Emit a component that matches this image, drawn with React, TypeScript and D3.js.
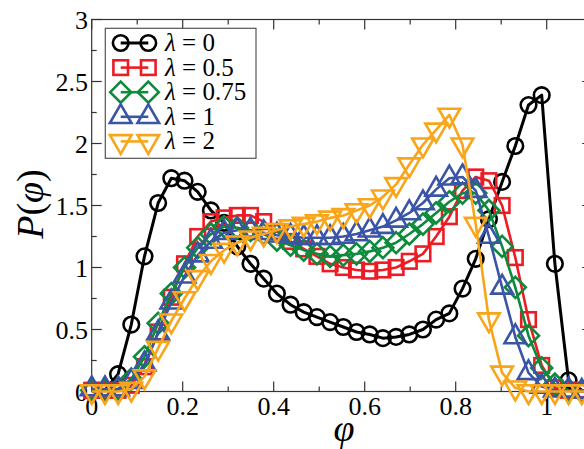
import React from "react";
import * as d3 from "d3";

const PHI = [0, 0.029, 0.058, 0.087, 0.116, 0.146, 0.175, 0.204, 0.233, 0.262, 0.291, 0.32, 0.349, 0.378, 0.407, 0.437, 0.466, 0.495, 0.524, 0.553, 0.582, 0.611, 0.64, 0.669, 0.698, 0.728, 0.757, 0.786, 0.815, 0.844, 0.873, 0.902, 0.931, 0.96, 0.989, 1.018, 1.048, 1.077, 1.106];

const P_LAMBDA_0 = [0, 0.01, 0.14, 0.54, 1.09, 1.52, 1.72, 1.7, 1.61, 1.46, 1.36, 1.17, 1.03, 0.91, 0.79, 0.7, 0.64, 0.6, 0.56, 0.52, 0.48, 0.46, 0.43, 0.44, 0.46, 0.5, 0.58, 0.63, 0.83, 1.07, 1.39, 1.69, 1.98, 2.31, 2.39, 1.03, 0.09, 0.01, 0];
const P_LAMBDA_05 = [0.01, 0.01, 0.01, 0.05, 0.2, 0.48, 0.76, 1.03, 1.25, 1.37, 1.4, 1.42, 1.42, 1.37, 1.29, 1.21, 1.15, 1.09, 1.03, 1.0, 0.98, 0.97, 0.98, 1.0, 1.05, 1.11, 1.25, 1.41, 1.62, 1.73, 1.7, 1.5, 1.08, 0.58, 0.21, 0.03, 0.01, 0.01, 0.01];
const P_LAMBDA_075 = [0.01, 0.01, 0.02, 0.1, 0.28, 0.55, 0.79, 1.0, 1.16, 1.27, 1.33, 1.32, 1.3, 1.27, 1.22, 1.18, 1.14, 1.11, 1.09, 1.1, 1.11, 1.13, 1.16, 1.2, 1.27, 1.35, 1.44, 1.53, 1.6, 1.6, 1.46, 1.17, 0.84, 0.45, 0.19, 0.06, 0.01, 0, 0];
const P_LAMBDA_1 = [0.02, 0.02, 0.02, 0.08, 0.22, 0.47, 0.72, 0.93, 1.1, 1.21, 1.28, 1.3, 1.3, 1.28, 1.26, 1.25, 1.24, 1.24, 1.24, 1.25, 1.27, 1.3, 1.33, 1.38, 1.44, 1.52, 1.63, 1.72, 1.73, 1.62, 1.25, 0.84, 0.44, 0.15, 0.04, 0.01, 0.01, 0, 0];
const P_LAMBDA_2 = [0, 0, 0, 0.02, 0.12, 0.35, 0.57, 0.75, 0.92, 1.05, 1.14, 1.2, 1.24, 1.27, 1.3, 1.33, 1.35, 1.37, 1.4, 1.42, 1.46, 1.5, 1.57, 1.67, 1.83, 1.99, 2.11, 2.23, 1.99, 1.35, 0.58, 0.15, 0.03, 0, 0, 0, 0, 0, 0];

const LAMBDA_LABELS = ["0", "0.5", "0.75", "1", "2"];
const X_TICKS = [0, 0.2, 0.4, 0.6, 0.8, 1];
const X_TICK_LABELS = ["0", "0.2", "0.4", "0.6", "0.8", "1"];
const X_MINOR = [0.1, 0.3, 0.5, 0.7, 0.9];
const Y_TICKS = [0, 0.5, 1, 1.5, 2, 2.5, 3];
const Y_TICK_LABELS = ["0", "0.5", "1", "1.5", "2", "2.5", "3"];
const Y_MINOR = [0.25, 0.75, 1.25, 1.75, 2.25, 2.75];

const SERIES = [
  { values: P_LAMBDA_0, color: "#000000", shape: "circle", lw: 3 },
  { values: P_LAMBDA_05, color: "#ec1c24", shape: "square", lw: 2.6 },
  { values: P_LAMBDA_075, color: "#0e8a3c", shape: "diamond", lw: 2.6 },
  { values: P_LAMBDA_1, color: "#3a54a6", shape: "up", lw: 2.6 },
  { values: P_LAMBDA_2, color: "#f9a51a", shape: "down", lw: 2.6 },
];

const W = 584;
const H = 449;
const X0 = 91.7;
const X1 = 91.7 + 455 * 1.1;
const Y0 = 391.5;
const Y1 = 19.5;
const textStyle = { fontFamily: '"Liberation Serif"' };

function Marker({ shape, cx, cy, color }: { shape: string; cx: number; cy: number; color: string }) {
  const sw = 2.6;
  if (shape === "circle") return <circle cx={cx} cy={cy} r={7.8} fill="none" stroke={color} strokeWidth={sw} />;
  if (shape === "square") {
    const h = 7.3;
    return <rect x={cx - h} y={cy - h} width={2 * h} height={2 * h} fill="none" stroke={color} strokeWidth={sw} />;
  }
  if (shape === "diamond") {
    const r = 10.5;
    return <path d={`M${cx},${cy - r}L${cx + r},${cy}L${cx},${cy + r}L${cx - r},${cy}Z`} fill="none" stroke={color} strokeWidth={sw} strokeLinejoin="miter" />;
  }
  const r = 12.5;
  const s = shape === "up" ? 1 : -1;
  const hw = (r * Math.sqrt(3)) / 2;
  return (
    <path
      d={`M${cx},${cy - s * r}L${cx + hw},${cy + (s * r) / 2}L${cx - hw},${cy + (s * r) / 2}Z`}
      fill="none"
      stroke={color}
      strokeWidth={sw}
    />
  );
}

export default function App() {
  const x = d3.scaleLinear().domain([0, 1.1]).range([X0, X1]);
  const y = d3.scaleLinear().domain([0, 3]).range([Y0, Y1]);
  const line = d3
    .line<number>()
    .x((_, i) => x(PHI[i]))
    .y((d) => y(d));

  const axisColor = "#333";
  const legX = 105.3;
  const legY = 28.3;
  const legRow = 24.6;

  return (
    <svg width={W} height={H} style={{ position: "fixed", left: 0, top: 0, background: "#fff" }}>
      <rect x={0} y={0} width={W} height={H} fill="#fff" />
      <rect x={X0} y={Y1} width={X1 - X0} height={Y0 - Y1} fill="none" stroke={axisColor} strokeWidth={1.2} />
      {X_TICKS.map((t) => (
        <g key={"xt" + t}>
          <line x1={x(t)} x2={x(t)} y1={Y0} y2={Y0 - 10} stroke={axisColor} strokeWidth={1.2} />
          <line x1={x(t)} x2={x(t)} y1={Y1} y2={Y1 + 10} stroke={axisColor} strokeWidth={1.2} />
        </g>
      ))}
      {X_MINOR.map((t) => (
        <g key={"xm" + t}>
          <line x1={x(t)} x2={x(t)} y1={Y0} y2={Y0 - 5} stroke={axisColor} strokeWidth={1.2} />
          <line x1={x(t)} x2={x(t)} y1={Y1} y2={Y1 + 5} stroke={axisColor} strokeWidth={1.2} />
        </g>
      ))}
      {Y_TICKS.map((t) => (
        <g key={"yt" + t}>
          <line x1={X0} x2={X0 + 10} y1={y(t)} y2={y(t)} stroke={axisColor} strokeWidth={1.2} />
          <line x1={X1} x2={X1 - 10} y1={y(t)} y2={y(t)} stroke={axisColor} strokeWidth={1.2} />
        </g>
      ))}
      {Y_MINOR.map((t) => (
        <g key={"ym" + t}>
          <line x1={X0} x2={X0 + 5} y1={y(t)} y2={y(t)} stroke={axisColor} strokeWidth={1.2} />
          <line x1={X1} x2={X1 - 5} y1={y(t)} y2={y(t)} stroke={axisColor} strokeWidth={1.2} />
        </g>
      ))}
      {X_TICKS.map((t, i) => (
        <text key={"xl" + t} x={x(t)} y={415} textAnchor="middle" fontSize={26} fill="#000" style={textStyle}>
          {X_TICK_LABELS[i]}
        </text>
      ))}
      {Y_TICKS.map((t, i) => (
        <text key={"yl" + t} x={88} y={y(t) + 9} textAnchor="end" fontSize={26} fill="#000" style={textStyle}>
          {Y_TICK_LABELS[i]}
        </text>
      ))}
      <text x={344} y={441} textAnchor="middle" fontSize={38} fontStyle="italic" fill="#000" style={textStyle}>
        φ
      </text>
      <text transform="translate(43,204) rotate(-90)" textAnchor="middle" fontSize={38} fill="#000" style={textStyle}>
        <tspan fontStyle="italic">P</tspan>
        <tspan>(</tspan>
        <tspan fontStyle="italic">φ</tspan>
        <tspan>)</tspan>
      </text>
      {SERIES.map((s, si) => (
        <g key={"s" + si}>
          <path d={line(s.values) || ""} fill="none" stroke={s.color} strokeWidth={s.lw} strokeLinejoin="round" />
          {s.values.map((v, i) => (
            <Marker key={i} shape={s.shape} cx={x(PHI[i])} cy={y(v)} color={s.color} />
          ))}
        </g>
      ))}
      <rect x={legX} y={legY} width={256 - legX} height={158.3 - legY} fill="#fff" stroke="#555" strokeWidth={1.2} />
      {SERIES.map((s, si) => {
        const cy = 43 + si * legRow;
        return (
          <g key={"lg" + si}>
            <line x1={120.7} x2={148.3} y1={cy} y2={cy} stroke={s.color} strokeWidth={s.lw} />
            <Marker shape={s.shape} cx={120.7} cy={cy} color={s.color} />
            <Marker shape={s.shape} cx={148.3} cy={cy} color={s.color} />
            <text x={165} y={cy + 8} fontSize={25} fill="#000" style={textStyle}>
              <tspan fontStyle="italic">λ</tspan>
              <tspan> = {LAMBDA_LABELS[si]}</tspan>
            </text>
          </g>
        );
      })}
    </svg>
  );
}
